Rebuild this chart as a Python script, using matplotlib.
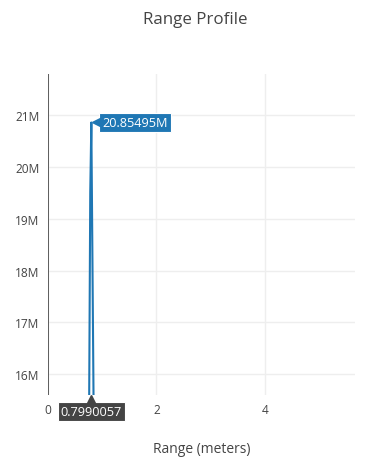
import matplotlib
matplotlib.use("Agg")
from matplotlib import pyplot as plt
from matplotlib.ticker import FuncFormatter
from matplotlib.transforms import ScaledTranslation

# range profile samples (meters, magnitude)
range_m = [0.0, 0.3995, 0.6392, 0.7391, 0.7790, 0.7990057, 0.8589, 0.9588, 1.5980, 3.1960, 5.6]
magnitude = [2.1e6, 3.4e6, 5.2e6, 11.5e6, 19.51e6, 20.85495e6, 13.0e6, 6.3e6, 2.8e6, 1.9e6, 1.2e6]

peak_idx = magnitude.index(max(magnitude))
peak_x = range_m[peak_idx]
peak_y = magnitude[peak_idx]

plt.rcParams["font.family"] = ["Open Sans", "DejaVu Sans"]

fig = plt.figure(figsize=(3.91, 4.64), dpi=100)
ax = fig.add_axes([48 / 391, 68 / 464, 307 / 391, 321 / 464])

ax.plot(range_m, magnitude, color="#1f77b4", lw=1.5, zorder=3)
ax.set_xlim(0, 5.66)
ax.set_ylim(15.6e6, 21.79e6)

ax.set_xticks([0, 2, 4])
ax.set_yticks([16e6, 17e6, 18e6, 19e6, 20e6, 21e6])
ax.yaxis.set_major_formatter(FuncFormatter(lambda v, p: f"{v / 1e6:.0f}M"))
ax.grid(True, color="#eeeeee", lw=1)
ax.set_axisbelow(True)
for s in ax.spines.values():
    s.set_visible(False)
ax.axvline(0, color="#444444", lw=1.2, zorder=2)
ax.tick_params(length=0, labelsize=8.6, labelcolor="#444444", pad=6)

fig.suptitle("Range Profile", x=0.5, y=0.975, fontsize=12.2, color="#444444")
ax.set_xlabel("Range (meters)", fontsize=10, color="#444444", labelpad=18)

# hover labels
ax.annotate(f"{peak_y / 1e6:.5f}M", (peak_x, peak_y), xytext=(8, 0), textcoords="offset points",
            ha="left", va="center", fontsize=9.2, color="white",
            bbox=dict(boxstyle="square,pad=0.25", fc="#1f77b4", ec="white", lw=0.8), zorder=5)
shift_r = ax.transData + ScaledTranslation(3.5 / 72, 0, fig.dpi_scale_trans)
ax.plot([peak_x], [peak_y], marker="<", ms=6, color="#1f77b4", transform=shift_r,
        zorder=6, clip_on=False, linestyle="none")

ax.annotate(f"{peak_x:.7f}", (peak_x, 0), xycoords=("data", "axes fraction"), xytext=(0, -7),
            textcoords="offset points", ha="center", va="top", fontsize=9.2, color="white",
            bbox=dict(boxstyle="square,pad=0.25", fc="#444444", ec="white", lw=0.8), zorder=5,
            annotation_clip=False)
shift_d = ax.get_xaxis_transform() + ScaledTranslation(0, -3 / 72, fig.dpi_scale_trans)
ax.plot([peak_x], [0], marker="^", ms=6, color="#444444", transform=shift_d,
        clip_on=False, zorder=6, linestyle="none")

fig.savefig("out.png", dpi=100)
